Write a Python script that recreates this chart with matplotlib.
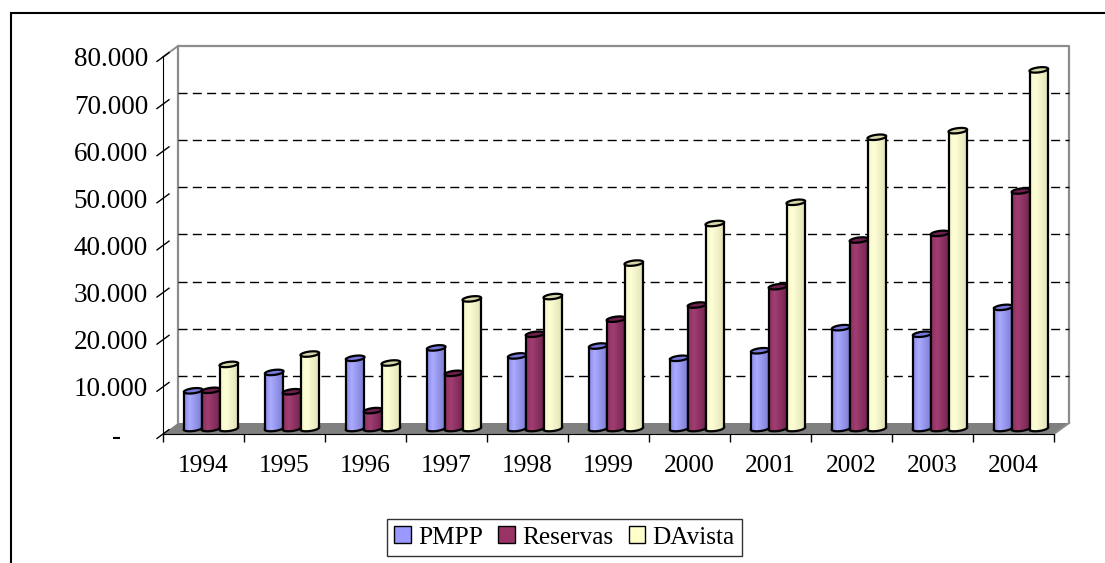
import numpy as np
import matplotlib
matplotlib.use("Agg")
import matplotlib.pyplot as plt
from matplotlib.patches import Polygon, Rectangle, Patch

plt.rcParams['font.family'] = ['Liberation Serif', 'DejaVu Serif']

# data
years = ['1994', '1995', '1996', '1997', '1998', '1999', '2000', '2001', '2002', '2003', '2004']
pmpp = [8000, 11900, 14900, 17100, 15400, 17500, 14900, 16500, 21400, 20000, 25700]
reservas = [8100, 7800, 3800, 11700, 20000, 23200, 26200, 30100, 40000, 41400, 50400]
davista = [13600, 15800, 13900, 27500, 28000, 35100, 43500, 48000, 61800, 63200, 76100]
series_names = ['PMPP', 'Reservas', 'DAvista']
yticks = [0, 10000, 20000, 30000, 40000, 50000, 60000, 70000, 80000]

# colours: legend colour, shading (left, highlight, right), cap
base_cols = ['#9999FF', '#993366', '#FFFFCC']
shades = [
    [(140, 140, 235), (170, 170, 255), (122, 122, 208)],
    [(140, 45, 95), (162, 62, 114), (112, 34, 78)],
    [(246, 246, 196), (255, 255, 216), (224, 224, 178)],
]
caps = ['#7878DC', '#6E1F4B', '#D6D6AA']

W, H = 1105, 563
fig = plt.figure(figsize=(W / 100, H / 100), dpi=100)
ax = fig.add_axes([163 / W, (H - 434) / H, (1054 - 163) / W, (434 - 57) / H])
n = len(years)
ax.set_xlim(0, n)
ax.set_ylim(0, 80000)
ax.autoscale(False)

# pixel -> data units
sx = n / (1054 - 163)
sy = 80000 / (434 - 57)
DX, DY = 15 * sx, 11 * sy  # depth of the 3d box

for s in ['top', 'right']:
    ax.spines[s].set_visible(False)
ax.spines['left'].set_color('black')
ax.spines['bottom'].set_color('black')
ax.spines['left'].set_zorder(2.5)
ax.spines['bottom'].set_zorder(2.5)

# floor
ax.add_patch(Polygon([(0, 0), (n, 0), (n + DX, DY), (DX, DY)], closed=True,
                     facecolor='#808080', edgecolor='none', zorder=1, clip_on=False))
# back wall outline
gray = '#8C8C8C'
ax.plot([DX, DX, n + DX, n + DX], [DY, 80000 + DY, 80000 + DY, DY], color=gray, lw=1.6,
        clip_on=False, zorder=1.2)
ax.plot([0, DX], [80000, 80000 + DY], color=gray, lw=1.4, clip_on=False, zorder=1.2)
ax.plot([n, n + DX], [0, DY], color=gray, lw=1.4, clip_on=False, zorder=1.2)

# gridlines on the back wall, slanted ticks on the front axis
for v in yticks[1:-1]:
    ax.plot([DX, n + DX], [v + DY, v + DY], color='black', lw=1.0,
            linestyle=(0, (6.5, 3.8)), clip_on=False, zorder=1.5)
for v in yticks:
    ax.plot([-6 * sx, 6 * sx], [v - 4.4 * sy, v + 4.4 * sy], color='black', lw=1.0,
            clip_on=False, zorder=2.6)

# y labels
def fmt(v):
    return '-    ' if v == 0 else f'{v:,}'.replace(',', '.')

ax.set_yticks(yticks, [fmt(v) for v in yticks])
ax.tick_params(axis='y', length=0, pad=10.8, labelsize=19.5)

# x labels and category ticks
ax.set_xticks(np.arange(n) + 0.5, years)
ax.set_xticks(np.arange(n + 1), minor=True)
ax.tick_params(axis='x', which='major', length=0, pad=15, labelsize=18.3)
ax.tick_params(axis='x', which='minor', length=5.8, width=1.0, direction='out', color='black')

# cylinders
A, BX, BY = 8.5, 3.75, 2.75   # ellipse of the cap (px)
bar_pitch = 17.8
t = np.linspace(0, 2 * np.pi, 90)
ex = (A * np.cos(t) + BX * np.sin(t)) * sx
ey = BY * np.sin(t) * sy
t0 = np.arctan2(BX, A)
tf = np.linspace(t0 + np.pi, t0 + 2 * np.pi, 50)
fx = (A * np.cos(tf) + BX * np.sin(tf)) * sx
fy = BY * np.sin(tf) * sy


def gradient(cols):
    pos = [0.0, 0.3, 1.0]
    xs = np.linspace(0, 1, 64)
    rgb = np.array([[np.interp(x, pos, [c[k] for c in cols]) for k in range(3)] for x in xs]) / 255
    return rgb[np.newaxis, :, :]


grads = [gradient(c) for c in shades]
y0 = 5.5 * sy  # bars stand in the middle of the depth
z = 3.0
lw = 1.6
for i in range(n):
    for j, vals in enumerate([pmpp, reservas, davista]):
        xc = i + 0.5 + 7.5 * sx + (j - 1) * bar_pitch * sx
        y1 = vals[i] + y0
        body = np.vstack([np.column_stack([xc + fx, y0 + fy]),
                          np.column_stack([xc + fx[::-1], y1 + fy[::-1]])])
        poly = Polygon(body, closed=True, facecolor='none', edgecolor='none', zorder=z)
        ax.add_patch(poly)
        im = ax.imshow(grads[j], extent=[xc + fx.min(), xc + fx.max(), y0 + fy.min(), y1 + fy.max()],
                       aspect='auto', origin='lower', zorder=z, interpolation='bilinear')
        im.set_clip_path(poly)
        ax.plot(xc + fx, y0 + fy, color='black', lw=lw, zorder=z + 0.001)
        ax.plot([xc + fx[0]] * 2, [y0 + fy[0], y1 + fy[0]], color='black', lw=lw, zorder=z + 0.001)
        ax.plot([xc + fx[-1]] * 2, [y0 + fy[-1], y1 + fy[-1]], color='black', lw=lw, zorder=z + 0.001)
        ax.add_patch(Polygon(np.column_stack([xc + ex, y1 + ey]), closed=True, facecolor=caps[j],
                             edgecolor='black', lw=lw, zorder=z + 0.002))
        z += 0.01

# legend
handles = [Patch(facecolor=c, edgecolor='black', lw=1.0) for c in base_cols]
leg = fig.legend(handles, series_names, loc='center', bbox_to_anchor=(564.5 / W, 1 - 537.5 / H),
                 ncol=3, fancybox=False, edgecolor='black', fontsize=18.2, handlelength=0.65,
                 handleheight=0.65, handletextpad=0.3, columnspacing=0.6, borderpad=0.3)
leg.get_frame().set_linewidth(1.0)

# outer chart border (only top and left are inside the picture)
fig.add_artist(Rectangle((10.5 / W, -0.1), 1.2, 1.1 - 13.5 / H, transform=fig.transFigure,
                         fill=False, edgecolor='black', lw=1.5))

fig.savefig('out.png', dpi=100)
